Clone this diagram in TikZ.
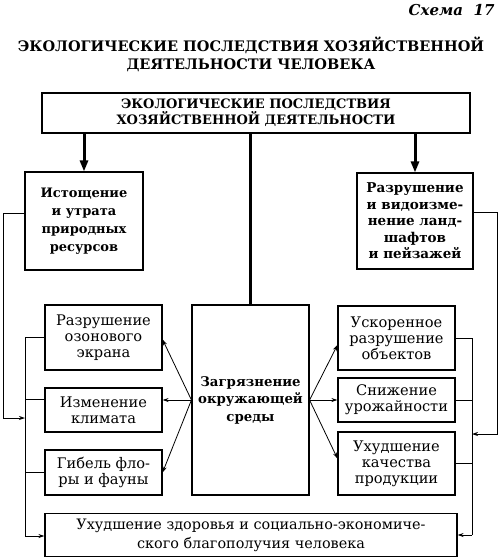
\documentclass[tikz,border=0pt]{standalone}
\usepackage{fontspec}
\setmainfont{DejaVu Serif}
\usetikzlibrary{arrows.meta}
\tikzset{
  box/.style={draw, line width=1.1pt, inner sep=0pt, align=center, minimum width=117pt},
  reg/.style={font=\fontsize{14.6}{16.2}\selectfont},
  bld/.style={font=\fontsize{13}{17.8}\selectfont\bfseries},
  thin/.style={line width=0.8pt},
  tarr/.style={line width=0.8pt, -{Stealth[length=6pt,width=4pt]}},
  thickarr/.style={line width=3pt, -{Triangle[length=11pt,width=8pt]}},
}
\begin{document}
\begin{tikzpicture}[x=1pt,y=-1pt]
\useasboundingbox (0,0) rectangle (500,558);
% header
\node[anchor=east, font=\fontsize{15}{17}\selectfont\bfseries\itshape] (sch) at (498,10) {Схема\ \ 17};
\node[align=center, font=\fontsize{14.5}{18}\selectfont\bfseries] (title) at (251,54)
  {ЭКОЛОГИЧЕСКИЕ ПОСЛЕДСТВИЯ ХОЗЯЙСТВЕННОЙ\\ДЕЯТЕЛЬНОСТИ ЧЕЛОВЕКА};
% boxes
\node[box, minimum width=428pt, minimum height=40pt, font=\fontsize{13}{15}\selectfont\bfseries] (top) at (256,113)
  {ЭКОЛОГИЧЕСКИЕ ПОСЛЕДСТВИЯ\\ХОЗЯЙСТВЕННОЙ ДЕЯТЕЛЬНОСТИ};
\node[box, bld, minimum width=118pt, minimum height=98pt] (ist) at (84,221)
  {Истощение\\и утрата\\природных\\ресурсов};
\node[box, minimum width=116pt, minimum height=96pt, font=\fontsize{13.5}{16.5}\selectfont\bfseries] (razl) at (415,221)
  {Разрушение\\и видоизме-\\нение ланд-\\шафтов\\и пейзажей};
\node[box, reg, minimum height=65pt] (ozon) at (103.5,337.5) {Разрушение\\озонового\\экрана};
\node[box, reg, minimum height=44pt] (klim) at (103.5,410) {Изменение\\климата};
\node[box, reg, minimum height=45pt] (flora) at (103.5,472.5) {Гибель фло-\\ры и фауны};
\node[box, minimum height=190pt, font=\fontsize{13.3}{17.5}\selectfont\bfseries] (zagr) at (250.5,400) {Загрязнение\\окружающей\\среды};
\node[box, reg, minimum height=64pt] (uskor) at (396.5,338) {Ускоренное\\разрушение\\объектов};
\node[box, reg, minimum height=44pt] (sniz) at (396.5,400) {Снижение\\урожайности};
\node[box, reg, minimum height=63pt] (kach) at (396.5,463.5) {Ухудшение\\качества\\продукции};
\node[box, minimum width=412pt, minimum height=43pt, font=\fontsize{14.4}{19}\selectfont] (bot) at (251,535)
  {Ухудшение здоровья и социально-экономиче-\\ского благополучия человека};
% thick connectors from top
\draw[thickarr] (top.south -| ist.north) -- (ist.north);
\draw[line width=3pt] (top.south -| zagr.north) -- (zagr.north);
\draw[thickarr] (top.south -| razl.north) -- (razl.north);
% fan arrows
\draw[tarr] (zagr.west) -- ([yshift=-2pt]ozon.east);
\draw[tarr] (zagr.west) -- ([yshift=10pt]klim.east);
\draw[tarr] (zagr.west) -- (flora.east);
\draw[tarr] (zagr.east) -- ([yshift=-7pt]uskor.west);
\draw[tarr] (zagr.east) -- (sniz.west);
\draw[tarr] (zagr.east) -- ([yshift=5pt]kach.west);
% left bus
\coordinate (lbt) at (25,337.5);
\coordinate (lbb) at (25,536);
\coordinate (lin) at (25,418);
\coordinate (lo1) at (3,213);
\coordinate (lo2) at (3,418);
\draw[thin] (lbt) -- (lbb);
\draw[thin] (ozon.west) -- (ozon.west -| lbt);
\draw[thin] ([yshift=11pt]klim.west) -- ([yshift=11pt]klim.west -| lbt);
\draw[thin] (flora.west) -- (flora.west -| lbt);
\draw[tarr] ([yshift=8pt]ist.west) -- (lo1) -- (lo2) -- (lin);
\draw[tarr] (lbb) -- (lbb -| bot.west);
% right bus
\coordinate (rbt) at (472,338);
\coordinate (rbb) at (472,535);
\coordinate (rin) at (472,434);
\coordinate (ro1) at (497,212);
\coordinate (ro2) at (497,434);
\draw[thin] (rbt) -- (rbb);
\draw[thin] (uskor.east) -- (uskor.east -| rbt);
\draw[thin] (sniz.east) -- (sniz.east -| rbt);
\draw[thin] (kach.east) -- (kach.east -| rbt);
\draw[tarr] ([yshift=9pt]razl.east) -- (ro1) -- (ro2) -- (rin);
\draw[tarr] (rbb) -- (rbb -| bot.east);
\end{tikzpicture}
\end{document}
